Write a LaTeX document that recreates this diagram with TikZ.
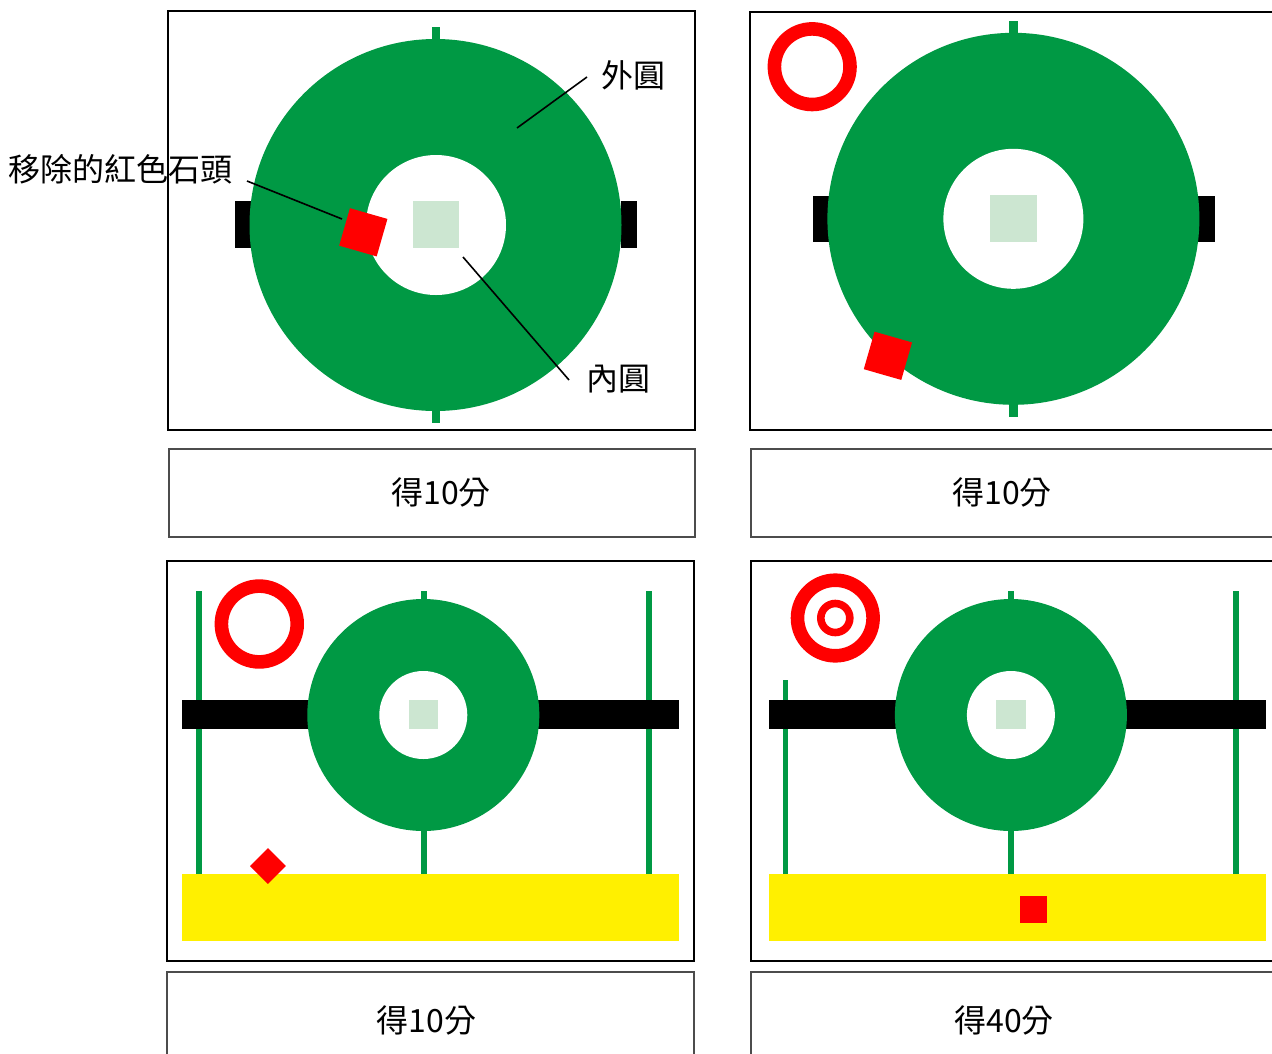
\documentclass[tikz,border=0pt]{standalone}
\usepackage{fontspec}
\newfontfamily\cjk{Noto Sans CJK TC}
\definecolor{fieldgreen}{RGB}{0,153,68}
\definecolor{palegreen}{RGB}{204,230,209}
\definecolor{stonered}{RGB}{255,0,0}
\definecolor{zoneyellow}{RGB}{255,240,0}
\begin{document}
\begin{tikzpicture}[x=1pt,y=-1pt,
  frame/.style={draw=black,line width=2pt},
  scorebox/.style={draw=black!70,line width=1.3pt},
  lbl/.style={font=\cjk\fontsize{32}{38}\selectfont,inner sep=0pt,text=black},
  leader/.style={draw=black,line width=1.6pt},
  tick/.style={draw=fieldgreen,line width=8.5pt},
  post/.style={draw=fieldgreen,line width=5.5pt},
  stone/.style={rectangle,fill=stonered,draw=none,minimum size=39pt,inner sep=0pt},
  ring/.style={draw=stonered,line width=13.6pt},
]
\useasboundingbox (0,0) rectangle (1272,1053);
\clip (0,0) rectangle (1272,1053);
\fill[white] (0,0) rectangle (1272,1053);

% ---------------- Panel 1 ----------------
\draw[tick] (436,27) -- (436,40);
\draw[tick] (436,410) -- (436,423);
\fill[black] (235,201) rectangle (251,248);
\fill[black] (621,201) rectangle (637,248);
\fill[fieldgreen] (435.5,225) circle[radius=186pt];
\fill[white] (436,225) circle[radius=70pt];
\fill[palegreen] (413,201) rectangle (459,248);
\node[stone,rotate=-16] (stoneA) at (363.3,232.3) {};
\node[lbl] (outerlbl) at (633,75) {外圓};
\node[lbl] (innerlbl) at (618,379) {內圓};
\node[lbl] (removedlbl) at (121,169) {移除的紅色石頭};
\coordinate (outerA) at (587,77);
\coordinate (outerB) at (517,128);
\coordinate (innerA) at (569,380);
\coordinate (innerB) at (463,257);
\coordinate (remA) at (247,181);
\coordinate (remB) at (342,219);
\draw[leader] (outerA) -- (outerB);
\draw[leader] (innerA) -- (innerB);
\draw[leader] (remA) -- (remB);
\draw[frame] (168,11) rectangle (695,430);
\draw[scorebox] (169,449) rectangle (695,537);
\node[lbl] (score1) at (441,492) {得10分};

% ---------------- Panel 2 ----------------
\draw[ring] (812.2,66.7) circle[radius=37.8pt];
\draw[tick] (1013.5,21) -- (1013.5,33.5);
\draw[tick] (1013.5,404) -- (1013.5,417);
\fill[black] (813,196) rectangle (829,242.3);
\fill[black] (1197.6,196) rectangle (1214.6,242.3);
\fill[fieldgreen] (1013.4,218.8) circle[radius=186pt];
\fill[white] (1013.4,218.8) circle[radius=70pt];
\fill[palegreen] (990,195.3) rectangle (1037,242);
\node[stone,rotate=-16] (stoneB) at (887.9,355.8) {};
\draw[frame] (750,12) rectangle (1290,430);
\draw[scorebox] (751,449) rectangle (1290,537);
\node[lbl] (score2) at (1002,492) {得10分};

% ---------------- Panel 3 ----------------
\draw[post] (198.8,591) -- (198.8,874);
\draw[post] (648.8,591) -- (648.8,874);
\draw[post] (424,591) -- (424,601);
\draw[post] (424,829) -- (424,874);
\fill[black] (182,700.3) rectangle (679,729.3);
\fill[fieldgreen] (423.3,715) circle[radius=116pt];
\fill[white] (423.3,715) circle[radius=44pt];
\fill[palegreen] (409,700.3) rectangle (438.3,729.3);
\fill[zoneyellow] (182,874) rectangle (679,940.7);
\draw[ring] (259.3,624) circle[radius=37.9pt];
\node[stone,minimum size=25.3pt,rotate=45] (stoneC) at (267.9,866) {};
\draw[frame] (167,561) rectangle (694,961);
\draw[scorebox] (167,972) rectangle (694,1070);
\node[lbl] (score3) at (426.5,1020) {得10分};

% ---------------- Panel 4 ----------------
\draw[post] (785.4,680) -- (785.4,874);
\draw[post] (1236,591) -- (1236,874);
\draw[post] (1011,591) -- (1011,601);
\draw[post] (1011,829) -- (1011,874);
\fill[black] (769,700.3) rectangle (1266.4,729.3);
\fill[fieldgreen] (1010.9,715) circle[radius=116pt];
\fill[white] (1010.9,715) circle[radius=44pt];
\fill[palegreen] (996.3,700.3) rectangle (1025.8,729.3);
\fill[zoneyellow] (769,874) rectangle (1266.4,940.7);
\node[stone,minimum size=27pt] (stoneD) at (1033.2,909.3) {};
\draw[ring] (835.3,618) circle[radius=37.8pt];
\draw[ring,line width=7.6pt] (835.3,618) circle[radius=14.5pt];
\draw[frame] (751,561) rectangle (1290,961);
\draw[scorebox] (751,972) rectangle (1290,1070);
\node[lbl] (score4) at (1004,1020) {得40分};
\end{tikzpicture}
\end{document}
